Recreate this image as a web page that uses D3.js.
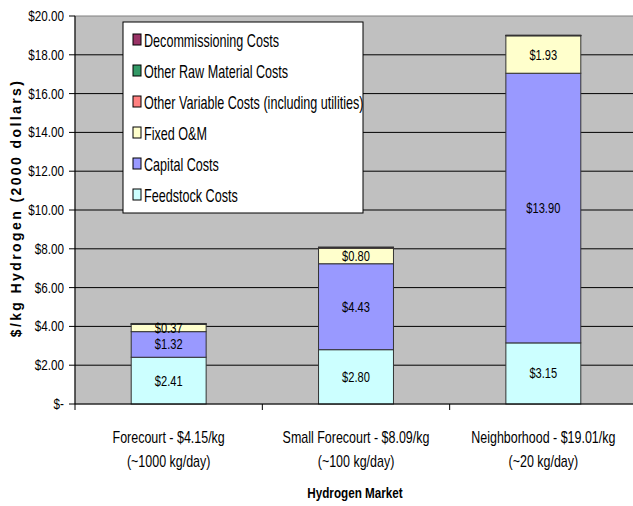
<!DOCTYPE html>
<html>
<head>
<meta charset="utf-8">
<script src="https://cdn.jsdelivr.net/npm/d3@7"></script>
<style>
  body { margin: 0; background: #fff; }
  text { font-family: "Liberation Sans", Arial, sans-serif; }
</style>
</head>
<body>
<svg id="chart" width="633" height="506"></svg>
<script>
  // Data
  var markets = ['Forecourt', 'Small Forecourt', 'Neighborhood']
  var marketLine1 = ['Forecourt - $4.15/kg', 'Small Forecourt - $8.09/kg', 'Neighborhood - $19.01/kg']
  var marketLine2 = ['(~1000 kg/day)', '(~100 kg/day)', '(~20 kg/day)']
  var seriesNames = ['Feedstock Costs', 'Capital Costs', 'Fixed O&M',
    'Other Variable Costs (including utilities)', 'Other Raw Material Costs', 'Decommissioning Costs']
  var feedstock = [2.41, 2.80, 3.15]
  var capital = [1.32, 4.43, 13.90]
  var fixedOM = [0.37, 0.80, 1.93]
  var otherVariable = [0.02, 0.03, 0.01]
  var otherRaw = [0.01, 0.01, 0.01]
  var decommissioning = [0.02, 0.02, 0.01]
  var yTicks = [0, 2, 4, 6, 8, 10, 12, 14, 16, 18, 20];

  (function () {
    var colors = ['#CCFFFF', '#9999FF', '#FFFFCC', '#FF8080', '#339966', '#993366']
    var labelled = [true, true, true, false, false, false]
    var SQUEEZE = 0.78 // fake a narrow face: no Arial Narrow here

    var pLeft = 75, pRight = 637, pTop = 16, pBottom = 404
    var svg = d3.select('#chart')

    var x = d3.scaleBand().domain(markets).range([pLeft, pRight]).paddingInner(0.6).paddingOuter(0.3)
    var xTick = d3.scaleBand().domain(markets).range([pLeft, pRight])
    var y = d3.scaleLinear().domain([0, 20]).range([pBottom, pTop])

    function narrow (px, py, s) {
      return 'translate(' + px + ',' + py + ') scale(' + (s || SQUEEZE) + ',1)'
    }

    // plot area
    svg.append('rect')
      .attr('x', pLeft).attr('y', pTop)
      .attr('width', pRight - pLeft).attr('height', pBottom - pTop)
      .attr('fill', '#C0C0C0').attr('stroke', '#808080')

    // gridlines
    svg.append('g').selectAll('line')
      .data(yTicks.filter(function (d) { return d > 0 && d < 20 }))
      .enter().append('line')
      .attr('x1', pLeft).attr('x2', pRight)
      .attr('y1', function (d) { return y(d) }).attr('y2', function (d) { return y(d) })
      .attr('stroke', '#000').attr('stroke-width', 1)

    // stacked bars
    var rows = markets.map(function (m, i) {
      return { market: m, values: [feedstock[i], capital[i], fixedOM[i], otherVariable[i], otherRaw[i], decommissioning[i]] }
    })
    var keys = d3.range(seriesNames.length)
    var layers = d3.stack().keys(keys).value(function (d, k) { return d.values[k] })(rows)

    var g = svg.append('g')
    layers.forEach(function (layer, k) {
      g.selectAll('rect.s' + k)
        .data(layer)
        .enter().append('rect')
        .attr('class', 's' + k)
        .attr('x', function (d) { return x(d.data.market) })
        .attr('width', x.bandwidth())
        .attr('y', function (d) { return y(d[1]) })
        .attr('height', function (d) { return y(d[0]) - y(d[1]) })
        .attr('fill', colors[k])
        .attr('stroke', '#333').attr('stroke-width', 1)
    })

    // data labels
    layers.forEach(function (layer, k) {
      if (!labelled[k]) return
      g.selectAll('text.s' + k)
        .data(layer)
        .enter().append('text')
        .attr('class', 's' + k)
        .attr('transform', function (d) {
          return narrow(x(d.data.market) + x.bandwidth() / 2, (y(d[0]) + y(d[1])) / 2 + 5, 0.74)
        })
        .attr('text-anchor', 'middle')
        .attr('font-size', 15)
        .attr('fill', '#000')
        .text(function (d) { return '$' + (d[1] - d[0]).toFixed(2) })
    })

    // y axis
    var yAxis = svg.append('g')
    yAxis.append('line').attr('x1', pLeft).attr('x2', pLeft).attr('y1', pTop).attr('y2', pBottom).attr('stroke', '#000')
    yAxis.selectAll('line.t').data(yTicks).enter().append('line')
      .attr('class', 't')
      .attr('x1', pLeft - 6).attr('x2', pLeft)
      .attr('y1', function (d) { return y(d) }).attr('y2', function (d) { return y(d) })
      .attr('stroke', '#000')
    yAxis.selectAll('text').data(yTicks).enter().append('text')
      .attr('transform', function (d) { return narrow(pLeft - 11, y(d) + 5) })
      .attr('text-anchor', 'end').attr('font-size', 15)
      .text(function (d) { return d === 0 ? '$-' : '$' + d.toFixed(2) })

    // x axis
    var xAxis = svg.append('g')
    xAxis.append('line').attr('x1', pLeft).attr('x2', pRight).attr('y1', pBottom).attr('y2', pBottom).attr('stroke', '#000')
    xAxis.selectAll('line.t').data(markets).enter().append('line')
      .attr('class', 't')
      .attr('x1', function (d) { return xTick(d) }).attr('x2', function (d) { return xTick(d) })
      .attr('y1', pBottom).attr('y2', pBottom + 6)
      .attr('stroke', '#000')
    xAxis.selectAll('text.l1').data(markets).enter().append('text')
      .attr('class', 'l1')
      .attr('transform', function (d) { return narrow(xTick(d) + xTick.bandwidth() / 2, 443) })
      .attr('text-anchor', 'middle').attr('font-size', 16)
      .text(function (d, i) { return marketLine1[i] })
    xAxis.selectAll('text.l2').data(markets).enter().append('text')
      .attr('class', 'l2')
      .attr('transform', function (d) { return narrow(xTick(d) + xTick.bandwidth() / 2, 467) })
      .attr('text-anchor', 'middle').attr('font-size', 16)
      .text(function (d, i) { return marketLine2[i] })

    // axis titles
    svg.append('text')
      .attr('transform', narrow(355, 498))
      .attr('text-anchor', 'middle')
      .attr('font-size', 15).attr('font-weight', 'bold')
      .text('Hydrogen Market')
    svg.append('text')
      .attr('transform', 'translate(21,' + 208 + ') rotate(-90)')
      .attr('text-anchor', 'middle')
      .attr('font-size', 14).attr('font-weight', 'bold')
      .attr('letter-spacing', 2.4)
      .text('$/kg Hydrogen (2000 dollars)')

    // legend
    var legend = svg.append('g').attr('transform', 'translate(123,22)')
    legend.append('rect').attr('width', 240).attr('height', 191)
      .attr('fill', '#fff').attr('stroke', '#000')
    var legendOrder = keys.slice().reverse()
    var item = legend.selectAll('g.item').data(legendOrder).enter().append('g')
      .attr('class', 'item')
      .attr('transform', function (d, i) { return 'translate(10,' + (19 + i * 31) + ')' })
    item.append('rect').attr('x', 0).attr('y', -7).attr('width', 8).attr('height', 11)
      .attr('fill', function (d) { return colors[d] }).attr('stroke', '#000')
    item.append('text')
      .attr('transform', narrow(11, 6, 0.72))
      .attr('font-size', 17.5)
      .text(function (d) { return seriesNames[d] })
  })()
</script>
</body>
</html>
